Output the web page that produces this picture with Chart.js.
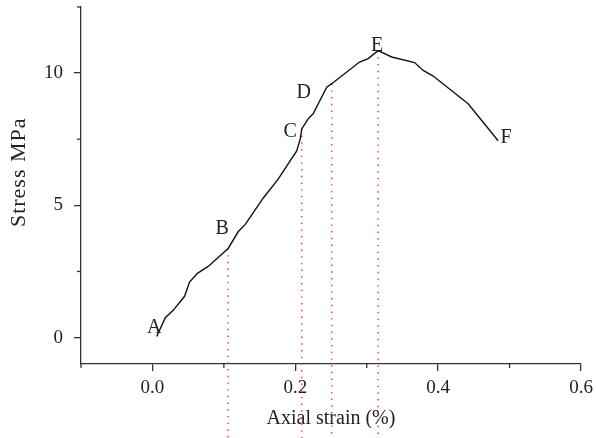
<!DOCTYPE html>
<html><head><meta charset="utf-8">
<script src="https://cdn.jsdelivr.net/npm/chart.js@4/dist/chart.umd.min.js"></script>
<style>html,body{margin:0;padding:0;background:#fff;}#wrap{width:596px;height:438px;}</style>
</head><body><div id="wrap"><canvas id="c" width="596" height="438"></canvas></div>
<script>
// ---- data ----
const strain = [0.006,0.018,0.029,0.045,0.052,0.063,0.078,0.106,0.120,0.130,0.155,0.176,0.202,0.207,0.209,0.218,0.225,0.244,0.251,0.290,0.302,0.316,0.335,0.367,0.379,0.393,0.442,0.484];
const stress = [0.04,0.75,1.03,1.56,2.10,2.43,2.69,3.37,4.00,4.28,5.27,5.99,7.06,7.51,7.89,8.27,8.46,9.47,9.60,10.42,10.55,10.85,10.61,10.40,10.10,9.89,8.84,7.44];
const pointNames = ['A','B','C','D','E','F'];
const pointIdx   = [0, 7, 14, 18, 21, 27];
const guideIdx   = [7, 14, 18, 21];
const xMajor = [0, 0.2, 0.4, 0.6];
const xMinor = [-0.1, 0.1, 0.3, 0.5];
const yMajor = [0, 5, 10];
const yMinor = [2.5, 7.5, 12.5];
const xTitle = 'Axial strain (%)';
const yTitle = 'Stress MPa';

const FONT = "'Liberation Serif','DejaVu Serif',serif";
const AXIS = '#333333';
const TEXT = '#222222';

const labelOffsets = {A:[-2.5,-9.7],B:[-6,-21],C:[-11.5,1],D:[-28,8],E:[-1,-6],F:[8,-4]};

const extras = {
  id: 'extras',
  beforeDatasetsDraw(chart) {
    const {ctx, scales:{x, y}} = chart;
    ctx.save();
    ctx.strokeStyle = 'rgb(236,60,55)';
    ctx.lineWidth = 1.5;
    ctx.setLineDash([1.4, 5.3]);
    guideIdx.forEach(i => {
      const px = x.getPixelForValue(strain[i]);
      const py = y.getPixelForValue(stress[i]);
      ctx.beginPath(); ctx.moveTo(px, py); ctx.lineTo(px, chart.height); ctx.stroke();
    });
    ctx.restore();
  },
  afterDraw(chart) {
    const {ctx, scales:{x, y}, chartArea} = chart;
    ctx.save();
    ctx.strokeStyle = AXIS; ctx.lineWidth = 1.3;
    xMinor.forEach(v => {
      const px = x.getPixelForValue(v);
      ctx.beginPath(); ctx.moveTo(px, chartArea.bottom); ctx.lineTo(px, chartArea.bottom + 4); ctx.stroke();
    });
    yMinor.forEach(v => {
      const py = y.getPixelForValue(v);
      ctx.beginPath(); ctx.moveTo(chartArea.left, py); ctx.lineTo(chartArea.left - 4, py); ctx.stroke();
    });
    ctx.fillStyle = TEXT;
    ctx.font = '20px ' + FONT;
    ctx.textAlign = 'center';
    ctx.textBaseline = 'alphabetic';
    pointIdx.forEach((i, k) => {
      const name = pointNames[k];
      const off = labelOffsets[name];
      const px = x.getPixelForValue(strain[i]) + off[0];
      const py = y.getPixelForValue(stress[i]) + off[1];
      ctx.fillText(name, px, py + 6.6);
    });
    const cy = (y.getPixelForValue(0) + y.getPixelForValue(12.5)) / 2;
    ctx.translate(19, cy);
    ctx.rotate(-Math.PI / 2);
    ctx.textBaseline = 'middle';
    ctx.font = '22px ' + FONT;
    try { ctx.letterSpacing = '1px'; } catch (e) {}
    ctx.fillText(yTitle, 0, 0);
    ctx.restore();
  }
};

new Chart(document.getElementById('c'), {
  type: 'scatter',
  data: {
    datasets: [{
      data: strain.map((s, i) => ({x: s, y: stress[i]})),
      showLine: true,
      borderColor: '#111111',
      borderWidth: 1.4,
      pointRadius: 0,
      tension: 0,
      fill: false
    }]
  },
  options: {
    responsive: false,
    animation: false,
    devicePixelRatio: 1,
    layout: {padding: {top: 7, right: 15, left: 0, bottom: 0}},
    plugins: {legend: {display: false}, tooltip: {enabled: false}},
    scales: {
      x: {
        type: 'linear', min: -0.1, max: 0.6,
        afterBuildTicks: s => { s.ticks = xMajor.map(v => ({value: v})); },
        afterFit: s => { s.height = 74; s.paddingLeft = 0; s.paddingRight = 0; },
        ticks: {color: TEXT, font: {family: FONT, size: 19}, padding: 6, maxRotation: 0,
                callback: v => v.toFixed(1)},
        grid: {drawOnChartArea: false, drawTicks: true, tickLength: 7, color: AXIS, lineWidth: 1.3},
        border: {display: true, color: AXIS, width: 1.3},
        title: {display: true, text: xTitle, color: TEXT, font: {family: FONT, size: 20}, padding: {top: 0, bottom: 7}}
      },
      y: {
        type: 'linear', min: -1, max: 12.5,
        afterBuildTicks: s => { s.ticks = yMajor.map(v => ({value: v})); },
        afterFit: s => { s.width = 81; s.paddingTop = 0; s.paddingBottom = 0; },
        ticks: {color: TEXT, font: {family: FONT, size: 19}, padding: 11,
                callback: v => String(v)},
        grid: {drawOnChartArea: false, drawTicks: true, tickLength: 7, color: AXIS, lineWidth: 1.3},
        border: {display: true, color: AXIS, width: 1.3},
        title: {display: false}
      }
    }
  },
  plugins: [extras]
});
</script>
</body></html>
